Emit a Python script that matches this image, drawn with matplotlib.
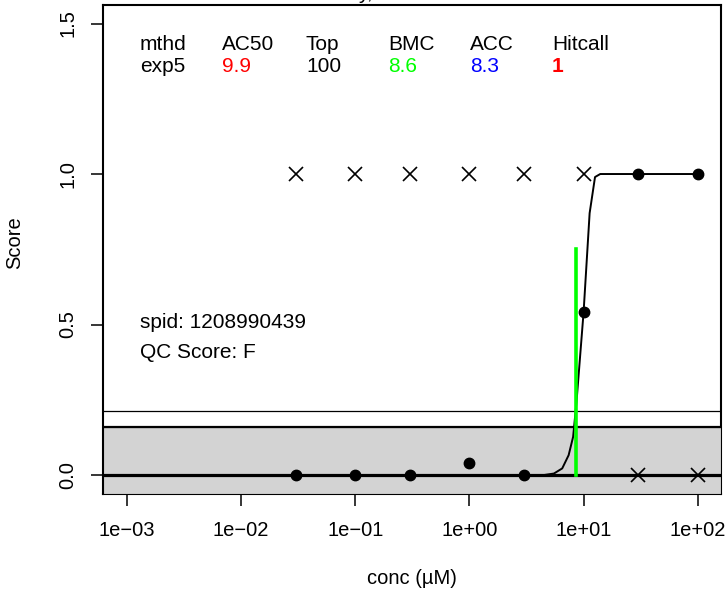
import numpy as np
import matplotlib.pyplot as plt

plt.rcParams['font.family'] = ['Liberation Sans', 'DejaVu Sans']

# measured data
conc = [0.03, 0.1, 0.3, 1, 3, 10, 30, 100]
resp = [0, 0, 0, 0.04, 0, 0.54, 1, 1]
flag = [1, 1, 1, 1, 1, 1, 0, 0]

# fitted exp5 curve
curve_conc = [0.03, 4.5, 5.5, 6.5, 7.4, 8.1, 8.66, 10, 11.3, 12.6, 14, 100]
curve_resp = [0, 0, 0.005, 0.022, 0.066, 0.127, 0.24, 0.54, 0.87, 0.99, 1.0, 1.0]

bmc = 8.6
bmc_top = 0.75
cutoff_band = 0.16
cutoff_line = 0.2136

hdr = ["mthd", "AC50", "Top", "BMC", "ACC", "Hitcall"]
vals = ["exp5", "9.9", "100", "8.6", "8.3", "1"]
cols = ["black", "red", "black", "#00FF00", "blue", "red"]

xticks = [1e-3, 1e-2, 1e-1, 1e0, 1e1, 1e2]
xticklabels = ["1e\u221203", "1e\u221202", "1e\u221201", "1e+00", "1e+01", "1e+02"]
yticks = [0.0, 0.5, 1.0, 1.5]
yticklabels = ["0.0", "0.5", "1.0", "1.5"]

W, H = 728, 592
fig = plt.figure(figsize=(W / 100, H / 100), dpi=100)
ax = fig.add_axes([103 / W, 1 - 494 / H, (721 - 103) / W, (494 - 5) / H])

ax.set_xscale("log")
ax.set_xlim(10 ** -3.21, 10 ** 2.204)
ax.set_ylim(-0.063, 1.5615)

ax.axhspan(-0.063, cutoff_band, facecolor="#D3D3D3", edgecolor="black", lw=0.8, zorder=3)
ax.axhline(cutoff_band, color="black", lw=1.6, zorder=3)
ax.axhline(cutoff_line, color="black", lw=0.9, zorder=3)
ax.axhline(0, color="black", lw=2.3, zorder=4)

ax.plot(curve_conc, curve_resp, color="black", lw=1.4, zorder=5)
ax.plot([bmc, bmc], [0, bmc_top], color="#00FF00", lw=2.6, zorder=6)
ax.plot(conc, resp, "o", color="black", ms=7.5, zorder=7)
ax.plot(conc, flag, "x", color="black", ms=10.5, mew=1.2, zorder=7)

for sp in ax.spines.values():
    sp.set_linewidth(1.5)

ax.set_xticks(xticks)
ax.set_xticklabels(xticklabels)
ax.minorticks_off()
ax.set_yticks(yticks)
ax.set_yticklabels(yticklabels, rotation=90, va="center")
ax.tick_params(axis="both", labelsize=14.5, length=8.6, width=1.1)
ax.tick_params(axis="x", pad=11)
ax.tick_params(axis="y", pad=10)

fig.text(412 / W, 1 - 578 / H, "conc (\u00b5M)", ha="center", va="center", fontsize=14.5)
fig.text(15 / W, 1 - 243 / H, "Score", ha="center", va="center", rotation=90, fontsize=14.5)

# cut-off title at top
fig.text(365 / W, 1 + 1 / H, "y,", ha="center", va="baseline", fontsize=15)

xs = [140, 222, 306, 388, 470, 552]
for x, h, v, c in zip(xs, hdr, vals, cols):
    fig.text(x / W, 1 - 45 / H, h, ha="left", va="center", fontsize=15)
    fig.text(x / W, 1 - 67 / H, v, ha="left", va="center", fontsize=15, color=c,
             fontweight="bold" if h == "Hitcall" else "normal")

fig.text(140 / W, 1 - 323 / H, "spid: 1208990439", ha="left", va="center", fontsize=15)
fig.text(140 / W, 1 - 352 / H, "QC Score: F", ha="left", va="center", fontsize=15)

fig.savefig("out.png", dpi=100)
